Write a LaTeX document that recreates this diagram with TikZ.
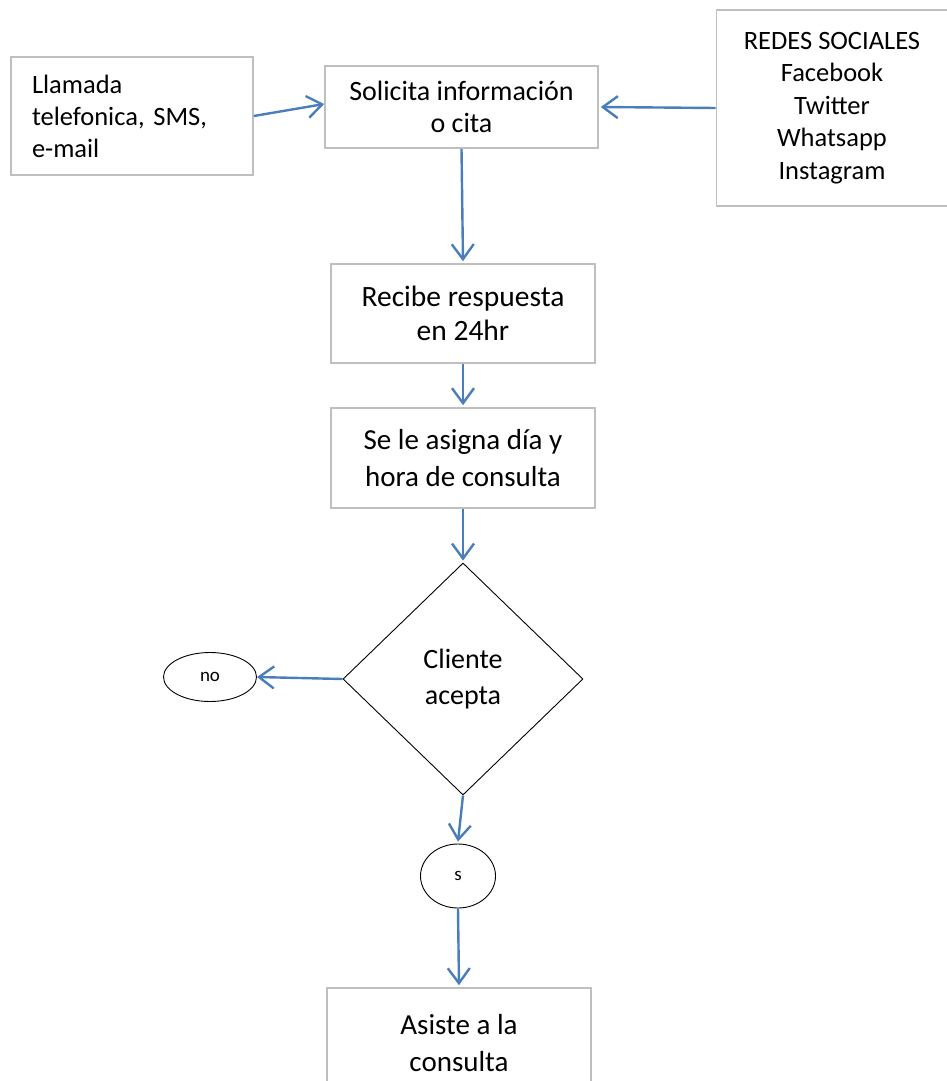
\documentclass[tikz,border=0pt]{standalone}
\usepackage{fontspec}
\setmainfont{Carlito}
\usetikzlibrary{shapes.geometric,arrows.meta}
\definecolor{boxgray}{RGB}{191,191,191}
\definecolor{arrowblue}{RGB}{74,126,187}

\tikzset{
  stepbox/.style={rectangle,draw=boxgray,line width=1.6pt,align=center,inner sep=0pt},
  choice/.style={diamond,draw=black,line width=0.9pt,align=center,inner sep=0pt},
  answer/.style={ellipse,draw=black,line width=0.9pt,inner sep=0pt,font=\fontsize{19}{20}\selectfont},
  flow/.style={draw=arrowblue,line width=2.4pt,-{Straight Barb[length=15pt,width=22pt,line width=2.4pt]}}
}

\begin{document}
\begin{tikzpicture}[x=1pt,y=-1pt]
        \useasboundingbox (0,0) rectangle (947,1081);

        % entradas
        \node[stepbox,minimum width=242,minimum height=118,text width=200,align=left,font=\fontsize{26.5}{32}\selectfont] (llamada) at (132,116) {
            Llamada\\telefonica, SMS,\\e-mail
        };
        \node[stepbox,minimum width=273,minimum height=82,font=\fontsize{28}{32}\selectfont] (solicita) at (461.5,107) {
            Solicita información\\o cita
        };
        \node[stepbox,minimum width=231,minimum height=196,font=\fontsize{26.5}{32.5}\selectfont] (redes) at (832,108) {
            REDES SOCIALES\\Facebook\\Twitter\\Whatsapp\\Instagram
        };

        % pasos
        \node[stepbox,minimum width=264,minimum height=99,font=\fontsize{29.5}{34}\selectfont] (recibe) at (463,313.5) {
            Recibe respuesta\\en 24hr
        };
        \node[stepbox,minimum width=264,minimum height=100,font=\fontsize{29}{37}\selectfont] (asigna) at (463,458) {
            Se le asigna día y\\hora de consulta
        };
        \node[choice,minimum width=240,minimum height=232,font=\fontsize{28}{36}\selectfont] (acepta) at (463,679) {
            Cliente\\acepta
        };
        \node[answer,minimum width=93,minimum height=49] (no) at (210,677) {no};
        \node[answer,minimum width=75,minimum height=64] (si) at (458,876) {s};
        \node[stepbox,minimum width=264,minimum height=110,font=\fontsize{29}{37}\selectfont] (asiste) at (459,1043) {
            Asiste a la\\consulta
        };

        % conectores
        \draw[flow] (llamada.east) -- ([yshift=3pt]solicita.west);
        \draw[flow] (redes.west) -- ([xshift=2pt]solicita.east);
        \draw[flow] (solicita.south) -- ([yshift=2pt]recibe.north);
        \draw[flow] (recibe.south) -- ([yshift=2pt]asigna.north);
        \draw[flow] (asigna.south) -- ([yshift=2pt]acepta.north);
        \draw[flow] (acepta.west) -- (no.east);
        \draw[flow] (acepta.south) -- ([yshift=2pt]si.north);
        \draw[flow] (si.south) -- ([yshift=2pt]asiste.north);
    \end{tikzpicture}
\end{document}
